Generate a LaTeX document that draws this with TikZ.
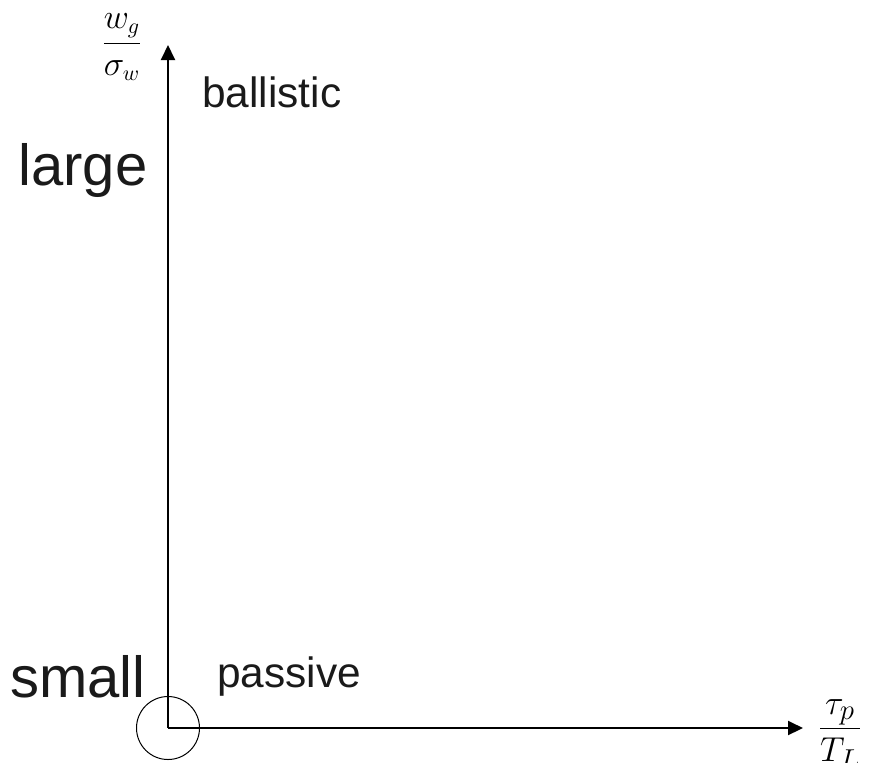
\documentclass[tikz,border=0pt]{standalone}
\usepackage{fontspec}
\setmainfont{Liberation Sans}
\usepackage{tikz}
\usetikzlibrary{arrows.meta}
\definecolor{inkDark}{HTML}{1A1A1A}

\begin{document}
\begin{tikzpicture}[x=0.5pt,y=-0.5pt]

            \tikzset{
                axisline/.style={
                    draw=black,
                    line width=1pt,
                    -{Triangle[length=7.5pt,width=7pt]}
                },
                regimelabel/.style={
                    font=\fontsize{21.2}{24}\selectfont,
                    text=inkDark,
                    inner sep=0pt,
                    anchor=base west
                },
                sizelabel/.style={
                    font=\fontsize{29}{32}\selectfont,
                    text=inkDark,
                    inner sep=0pt,
                    anchor=base west
                },
                ratiolabel/.style={
                    inner sep=0pt,
                    anchor=base
                }
            }

            \useasboundingbox (0,0) rectangle (871,762);

            % axes
            \coordinate (origin) at (168,728);
            \coordinate (yTip) at (168,45);
            \coordinate (xTip) at (803,728);
            \draw[axisline] (origin) -- (yTip);
            \draw[axisline] (origin) -- (xTip);
            \draw[line width=0.5pt] (origin) circle (31.5);

            % axis ratios (baseline sits one quarter em below the bar)
            \node[ratiolabel,font=\fontsize{16}{19}\selectfont] (yRatio) at (122,52) {$\displaystyle\frac{w_g}{\sigma_w}$};
            \node[ratiolabel,font=\fontsize{19}{22}\selectfont] (xRatio) at (840,737.5) {$\displaystyle\frac{\tau_p}{T_L}$};

            % labels
            \node[sizelabel] (large) at (18,185) {large};
            \node[sizelabel] (small) at (10,697) {small};
            \node[regimelabel] (ballistic) at (202,107) {ballistic};
            \node[regimelabel] (passive) at (217,687) {passive};

\end{tikzpicture}
\end{document}
